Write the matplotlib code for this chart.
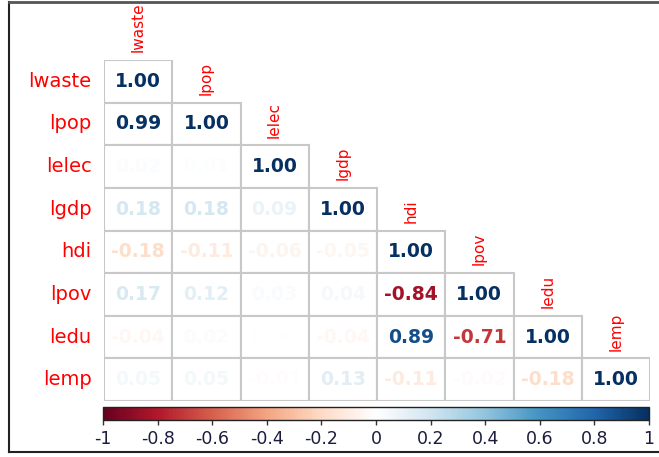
import numpy as np
import matplotlib
matplotlib.use('Agg')
import matplotlib.pyplot as plt
from matplotlib.colors import LinearSegmentedColormap, Normalize
from matplotlib.patches import Rectangle
from matplotlib.lines import Line2D
import matplotlib.cm as cm

# variables and lower-triangle correlations (row by row)
labels = ['lwaste', 'lpop', 'lelec', 'lgdp', 'hdi', 'lpov', 'ledu', 'lemp']
r_lwaste = [1.00]
r_lpop = [0.99, 1.00]
r_lelec = [0.02, 0.01, 1.00]
r_lgdp = [0.18, 0.18, 0.09, 1.00]
r_hdi = [-0.18, -0.11, -0.06, -0.05, 1.00]
r_lpov = [0.17, 0.12, 0.03, 0.04, -0.84, 1.00]
r_ledu = [-0.04, 0.02, 0.00, -0.04, 0.89, -0.71, 1.00]
r_lemp = [0.05, 0.05, -0.01, 0.13, -0.11, -0.02, -0.18, 1.00]
rows = [r_lwaste, r_lpop, r_lelec, r_lgdp, r_hdi, r_lpov, r_ledu, r_lemp]
cbar_ticks = [-1, -0.8, -0.6, -0.4, -0.2, 0, 0.2, 0.4, 0.6, 0.8, 1]

# corrplot's RdBu palette
cmap = LinearSegmentedColormap.from_list('rdbu2', [
    '#67001F', '#B2182B', '#D6604D', '#F4A582', '#FDDBC7', '#FFFFFF',
    '#D1E5F0', '#92C5DE', '#4393C3', '#2166AC', '#053061'])
norm = Normalize(-1, 1)

W, H = 659, 457
fig = plt.figure(figsize=(W / 100, H / 100), dpi=100)

# outer frame (left, top, bottom)
fig.add_artist(Line2D([9 / W, 9 / W], [1 - 452 / H, 1 - 2 / H], color='#222222', lw=1.5))
fig.add_artist(Line2D([9 / W, 1], [1 - 2 / H, 1 - 2 / H], color='#555555', lw=2))
fig.add_artist(Line2D([9 / W, 1], [1 - 452 / H, 1 - 452 / H], color='#222222', lw=1.5))

ax = fig.add_axes([104 / W, 1 - 401 / H, 546 / W, 341 / H])
ax.set_xlim(-0.5, 7.5)
ax.set_ylim(7.5, -0.5)
ax.axis('off')

for i, row in enumerate(rows):
    for j, v in enumerate(row):
        ax.add_patch(Rectangle((j - 0.5, i - 0.5), 1, 1, facecolor='white',
                               edgecolor='#c8c8c8', lw=1.5, zorder=1))
        ax.text(j, i, '%.2f' % v, ha='center', va='center', fontsize=13.5,
                fontweight='bold', color=cmap(norm(v)), zorder=3)

for i, lab in enumerate(labels):
    ax.text(-0.68, i, lab, ha='right', va='center', fontsize=14,
            color='red', clip_on=False)
    ax.text(i, i - 0.68, lab, ha='center', va='bottom', rotation=90,
            fontsize=11, color='red', clip_on=False)

cax = fig.add_axes([103 / W, 1 - 419.5 / H, 546 / W, 13 / H])
sm = cm.ScalarMappable(norm=norm, cmap=cmap)
cb = fig.colorbar(sm, cax=cax, orientation='horizontal', ticks=cbar_ticks)
cb.ax.set_xticklabels(['%g' % t for t in cbar_ticks])
cb.outline.set_linewidth(1.0)
cb.outline.set_edgecolor('#222222')
cb.ax.tick_params(direction='out', length=3.5, width=1, color='#333333',
                  labelsize=12.5, labelcolor='#1c1c3c', pad=4)

fig.savefig('out.png', dpi=100)
